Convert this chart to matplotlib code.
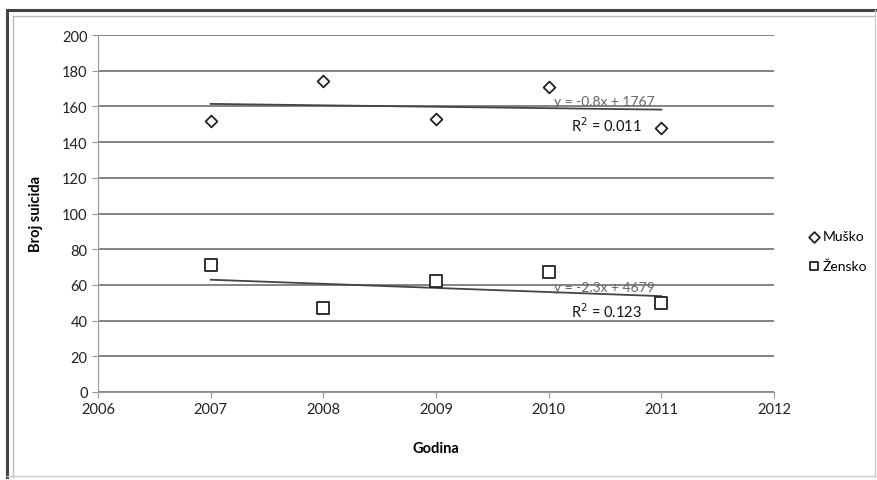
import matplotlib.pyplot as plt
from matplotlib.lines import Line2D
import numpy as np

plt.rcParams['font.family'] = ['Lato', 'DejaVu Sans']

years = [2007, 2008, 2009, 2010, 2011]
musko = [152, 174, 153, 171, 148]
zensko = [71, 47, 62, 67, 50]

# trendline coefficients as printed on the chart
musko_fit = (-0.8, 1767)
zensko_fit = (-2.3, 4679)
musko_eq = 'y = -0.8x + 1767'
musko_r2 = 'R$^2$ = 0.011'
zensko_eq = 'y = -2.3x + 4679'
zensko_r2 = 'R$^2$ = 0.123'

W, H = 878, 481
fig = plt.figure(figsize=(8.78, 4.81), dpi=100)
ax = fig.add_axes([98 / W, 1 - 393 / H, 676 / W, 357 / H])


def fline(x0, y0, x1, y1, color, lw):
    # pixel coords from top-left
    fig.add_artist(Line2D([x0 / W, x1 / W], [1 - y0 / H, 1 - y1 / H], transform=fig.transFigure,
                          color=color, linewidth=lw))


# outer frame: dark on top/left, light on right/bottom
fline(7, 11, 875, 11, '#444444', 2.2)
fline(7, 11, 7, 478, '#444444', 2.2)
fline(13, 17, 875, 17, '#bbbbbb', 1)
fline(13, 17, 13, 478, '#bbbbbb', 1)
fline(875, 11, 875, 478, '#cccccc', 1)
fline(7, 477, 875, 477, '#cccccc', 1)

ax.set_xlim(2006, 2012)
ax.set_ylim(0, 200)
ax.set_xticks(range(2006, 2013))
ax.set_yticks(range(0, 201, 20))
ax.yaxis.grid(True, color='#7a7a7a', linewidth=1.3)
ax.set_axisbelow(True)
for s in ['top', 'right']:
    ax.spines[s].set_visible(False)
ax.spines['left'].set_color('#999999')
ax.spines['bottom'].set_color('#999999')
ax.tick_params(colors='#999999', labelcolor='#222222', labelsize=10.5, length=4)

ax.scatter(years, musko, marker='D', s=36, facecolor='white', edgecolor='#222222',
           linewidth=1.3, label='Muško', zorder=3)
ax.scatter(years, zensko, marker='s', s=80, facecolor='white', edgecolor='#222222',
           linewidth=1.3, label='Žensko', zorder=3)

xs = np.array([years[0], years[-1]])
ax.plot(xs, musko_fit[0] * xs + musko_fit[1], color='#444444', linewidth=1.3, zorder=2)
ax.plot(xs, zensko_fit[0] * xs + zensko_fit[1], color='#444444', linewidth=1.3, zorder=2)

ax.text(2010.05, 159.5, musko_eq, fontsize=10, color='#666666', va='bottom')
ax.text(2010.2, 155, musko_r2, fontsize=10.5, color='#111111', va='top')
ax.text(2010.05, 55.5, zensko_eq, fontsize=10, color='#666666', va='bottom')
ax.text(2010.2, 51, zensko_r2, fontsize=10.5, color='#111111', va='top')

ax.set_xlabel('Godina', fontsize=10.5, fontweight='bold', labelpad=18)
ax.set_ylabel('Broj suicida', fontsize=10.5, fontweight='bold', labelpad=14)

leg = ax.legend(loc='center left', bbox_to_anchor=(1.05, 0.395), frameon=False, fontsize=10,
                handletextpad=0.15, labelspacing=1.2, handlelength=0.9,
                borderpad=0, borderaxespad=0)
for h in leg.legend_handles:
    h.set_sizes([30])

fig.savefig('out.png', dpi=100)
